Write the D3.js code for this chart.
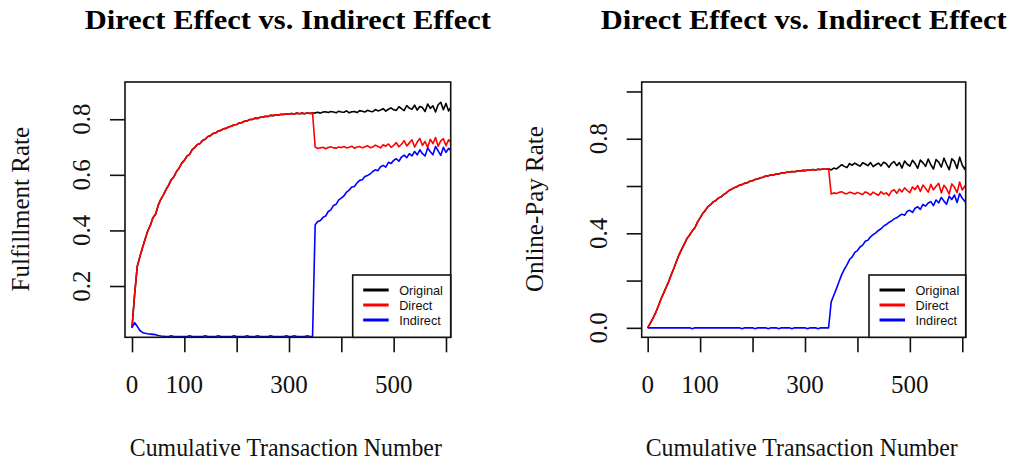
<!DOCTYPE html>
<html>
<head>
<meta charset="utf-8">
<script src="https://cdn.jsdelivr.net/npm/d3@7"></script>
<style>
  body { margin: 0; background: #fff; }
</style>
</head>
<body>
<div id="main-chart"></div>
<script>
const txnPre = [0,5,10,15,20,25,30,35,40,45,50,55,60,65,70,75,80,85,90,95,
  100,105,110,115,120,125,130,135,140,145,150,155,160,165,170,175,180,185,190,195,
  200,205,210,215,220,225,230,235,240,245,250,255,260,265,270,275,280,285,290,295,
  300,305,310,315,320,325,330,335,340,345];
const txnPost = [350,355,360,365,370,375,380,385,390,395,400,405,410,415,420,425,430,435,440,445,
  450,455,460,465,470,475,480,485,490,495,500,505,510,515,520,525,530,535,540,545,
  550,555,560,565,570,575,580,585,590,595,600,605,610];

// Fulfillment rate (left panel); Original and Direct coincide before the change
const fulfilBase = [0.05,0.17,0.27,0.305,0.338,0.368,0.398,0.418,0.446,0.458,
  0.49,0.512,0.528,0.547,0.563,0.582,0.593,0.612,0.624,0.642,
  0.652,0.667,0.674,0.691,0.698,0.709,0.713,0.724,0.728,0.738,
  0.741,0.749,0.751,0.758,0.76,0.766,0.767,0.773,0.775,0.78,
  0.781,0.787,0.788,0.793,0.794,0.799,0.799,0.804,0.803,0.807,
  0.807,0.811,0.81,0.814,0.813,0.816,0.815,0.818,0.817,0.82,
  0.818,0.821,0.819,0.822,0.82,0.822,0.82,0.823,0.821,0.822];
const fulfilOriginalPost = [0.823,0.825,0.822,0.826,0.827,0.824,0.828,0.826,0.823,0.829,
  0.826,0.825,0.83,0.823,0.827,0.828,0.824,0.831,0.829,0.826,
  0.832,0.829,0.827,0.835,0.83,0.833,0.838,0.829,0.836,0.841,
  0.834,0.832,0.845,0.838,0.831,0.849,0.84,0.836,0.851,0.833,
  0.846,0.842,0.828,0.855,0.839,0.848,0.826,0.852,0.861,0.834,
  0.857,0.83,0.845];
const fulfilDirectPost = [0.70,0.695,0.697,0.699,0.694,0.698,0.701,0.697,0.696,0.70,
  0.698,0.702,0.697,0.699,0.703,0.696,0.70,0.702,0.697,0.701,
  0.705,0.698,0.70,0.707,0.702,0.697,0.708,0.703,0.711,0.699,
  0.706,0.716,0.701,0.71,0.723,0.704,0.715,0.726,0.70,0.718,
  0.731,0.706,0.72,0.699,0.728,0.712,0.734,0.703,0.722,0.73,
  0.705,0.726,0.715];
const fulfilIndirectPre = [0.05,0.068,0.055,0.04,0.033,0.03,0.028,0.027,0.026,0.025,
  0.022,0.02,0.019,0.018,0.018,0.021,0.018,0.018,0.018,0.018,
  0.018,0.018,0.021,0.018,0.018,0.018,0.018,0.018,0.021,0.018,
  0.018,0.018,0.018,0.021,0.018,0.018,0.018,0.018,0.018,0.021,
  0.018,0.018,0.018,0.018,0.021,0.018,0.018,0.018,0.021,0.018,
  0.018,0.018,0.018,0.021,0.018,0.018,0.018,0.018,0.018,0.021,
  0.018,0.018,0.021,0.018,0.018,0.018,0.018,0.021,0.018,0.018];
const fulfilIndirectPost = [0.42,0.432,0.436,0.447,0.452,0.468,0.474,0.49,0.494,0.51,
  0.516,0.524,0.538,0.545,0.556,0.558,0.571,0.58,0.582,0.594,
  0.598,0.603,0.612,0.618,0.615,0.629,0.634,0.628,0.645,0.641,
  0.652,0.658,0.649,0.664,0.671,0.662,0.676,0.668,0.684,0.672,
  0.69,0.676,0.668,0.697,0.683,0.672,0.702,0.686,0.67,0.699,
  0.681,0.695,0.686];

// Online-pay rate (right panel)
const payBase = [0,0.02,0.04,0.063,0.09,0.12,0.145,0.17,0.195,0.225,
  0.252,0.282,0.31,0.333,0.355,0.378,0.393,0.41,0.423,0.447,
  0.465,0.484,0.497,0.513,0.521,0.533,0.539,0.549,0.554,0.564,
  0.571,0.581,0.586,0.593,0.597,0.604,0.606,0.612,0.614,0.62,
  0.622,0.628,0.63,0.635,0.637,0.642,0.643,0.647,0.647,0.651,
  0.651,0.655,0.655,0.658,0.658,0.661,0.66,0.663,0.663,0.666,
  0.665,0.668,0.667,0.67,0.668,0.671,0.67,0.672,0.671,0.673];
const payOriginalPost = [0.668,0.676,0.672,0.681,0.69,0.683,0.678,0.695,0.688,0.697,
  0.69,0.684,0.698,0.693,0.686,0.699,0.682,0.69,0.697,0.685,
  0.701,0.694,0.679,0.696,0.703,0.686,0.699,0.676,0.706,0.692,
  0.684,0.709,0.695,0.675,0.71,0.698,0.683,0.714,0.69,0.672,
  0.712,0.701,0.68,0.718,0.692,0.669,0.715,0.704,0.674,0.722,
  0.688,0.67,0.712];
const payDirectPost = [0.566,0.571,0.568,0.573,0.576,0.569,0.567,0.574,0.571,0.566,
  0.573,0.568,0.564,0.575,0.57,0.562,0.574,0.567,0.561,0.576,
  0.566,0.571,0.559,0.578,0.584,0.569,0.587,0.575,0.592,0.581,
  0.572,0.596,0.585,0.602,0.577,0.604,0.59,0.574,0.607,0.584,
  0.599,0.611,0.571,0.603,0.588,0.566,0.609,0.595,0.572,0.617,
  0.583,0.60,0.574];
const payIndirectPre = [0,0,0,0,0,0,0,0,0,0,
  0,0,0,0,0,0,0,-0.004,0,0,
  0,0,0,0,0,0,0,0,0,0,
  0,0,0,0,0,0,-0.004,0,0,0,
  0,-0.004,0,0,0,0,-0.004,0,0,0,
  -0.004,0,0,0,0,-0.004,0,0,0,0,
  0,-0.004,0,0,0,-0.004,0,0,0,0];
const payIndirectPost = [0.11,0.138,0.166,0.196,0.225,0.247,0.266,0.289,0.30,0.319,
  0.327,0.342,0.35,0.366,0.371,0.385,0.394,0.402,0.412,0.419,
  0.43,0.437,0.446,0.452,0.461,0.466,0.474,0.481,0.476,0.493,
  0.497,0.488,0.506,0.512,0.501,0.522,0.515,0.528,0.534,0.517,
  0.541,0.529,0.552,0.536,0.523,0.557,0.543,0.562,0.53,0.568,
  0.548,0.534,0.56];

const seriesNames = ["Original", "Direct", "Indirect"];
const seriesColors = ["#000000", "#ff0000", "#0000ff"];
const xTicks = [0, 100, 200, 300, 400, 500, 600];
const xTickLabels = [0, 100, 300, 500];
const chartTitle = "Direct Effect vs. Indirect Effect";
const xTitle = "Cumulative Transaction Number";

const txnAll = txnPre.concat(txnPost);
const serif = "'Liberation Serif', 'Times New Roman', serif";
const sans = "'Liberation Sans', Arial, sans-serif";

const svg = d3.select("#main-chart")
    .append("svg")
    .attr("width", 1012)
    .attr("height", 461);

function drawPanel(p) {
    const x = d3.scaleLinear().domain(p.xDomain).range([p.left, p.right]);
    const y = d3.scaleLinear().domain(p.yDomain).range([p.bottom, p.top]);
    const g = svg.append("g");
    const clipId = "clip-" + p.id;

    g.append("clipPath").attr("id", clipId)
        .append("rect")
        .attr("x", p.left).attr("y", p.top)
        .attr("width", p.right - p.left).attr("height", p.bottom - p.top);

    const line = d3.line().x(d => x(d[0])).y(d => y(d[1]));

    p.series.forEach((vals, i) => {
        g.append("path")
            .datum(d3.zip(txnAll, vals))
            .attr("clip-path", `url(#${clipId})`)
            .attr("fill", "none")
            .attr("stroke", seriesColors[i])
            .attr("stroke-width", 1.6)
            .attr("stroke-linejoin", "round")
            .attr("d", line);
    });

    // x axis ticks
    const xAxis = g.append("g")
        .attr("transform", `translate(0,${p.bottom})`)
        .call(d3.axisBottom(x).tickValues(xTicks).tickSize(15).tickFormat(""));
    xAxis.select(".domain").remove();
    xAxis.selectAll("line").attr("stroke", "#111").attr("stroke-width", 1.6);

    g.selectAll(".xlab")
        .data(xTickLabels)
        .enter().append("text")
        .attr("x", d => x(d))
        .attr("y", p.bottom + 56)
        .attr("text-anchor", "middle")
        .attr("font-family", serif)
        .attr("font-size", 25)
        .attr("fill", "#111")
        .text(d => d);

    // y axis ticks
    const yAxis = g.append("g")
        .attr("transform", `translate(${p.left},0)`)
        .call(d3.axisLeft(y).tickValues(p.yTicks).tickSize(15).tickFormat(""));
    yAxis.select(".domain").remove();
    yAxis.selectAll("line").attr("stroke", "#111").attr("stroke-width", 1.6);

    g.selectAll(".ylab")
        .data(p.yTickLabels)
        .enter().append("text")
        .attr("transform", d => `translate(${p.left - 35},${y(d)}) rotate(-90)`)
        .attr("text-anchor", "middle")
        .attr("font-family", serif)
        .attr("font-size", 25)
        .attr("fill", "#111")
        .text(d => d3.format(".1f")(d));

    // plot box
    g.append("rect")
        .attr("x", p.left).attr("y", p.top)
        .attr("width", p.right - p.left).attr("height", p.bottom - p.top)
        .attr("fill", "none")
        .attr("stroke", "#111")
        .attr("stroke-width", 1.6);

    // titles
    const cx = (p.left + p.right) / 2;
    g.append("text")
        .attr("x", cx).attr("y", 29.3)
        .attr("text-anchor", "middle")
        .attr("font-family", serif)
        .attr("font-weight", "bold")
        .attr("font-size", 27)
        .attr("textLength", 406)
        .attr("lengthAdjust", "spacingAndGlyphs")
        .text(chartTitle);

    g.append("text")
        .attr("x", cx - 2).attr("y", 456)
        .attr("text-anchor", "middle")
        .attr("font-family", serif)
        .attr("font-size", 25)
        .attr("fill", "#111")
        .attr("textLength", 312)
        .attr("lengthAdjust", "spacingAndGlyphs")
        .text(xTitle);

    g.append("text")
        .attr("transform", `translate(${p.left - p.yTitleOffset},${(p.top + p.bottom) / 2 - 0.5}) rotate(-90)`)
        .attr("text-anchor", "middle")
        .attr("font-family", serif)
        .attr("font-size", 25)
        .attr("fill", "#111")
        .text(p.yTitle);

    // legend
    const lg = g.append("g");
    lg.append("rect")
        .attr("x", p.legendX).attr("y", p.legendY)
        .attr("width", p.right - p.legendX).attr("height", p.bottom - p.legendY)
        .attr("fill", "#fff")
        .attr("stroke", "#111")
        .attr("stroke-width", 1.6);

    seriesNames.forEach((name, i) => {
        const ly = p.legendY + 15 + i * 15;
        lg.append("line")
            .attr("x1", p.legendX + 10.5).attr("x2", p.legendX + 36)
            .attr("y1", ly).attr("y2", ly)
            .attr("stroke", seriesColors[i])
            .attr("stroke-width", 3);
        lg.append("text")
            .attr("x", p.legendX + 46.5).attr("y", ly + 4.6)
            .attr("font-family", sans)
            .attr("font-size", 12.7)
            .attr("fill", "#111")
            .text(name);
    });
}

drawPanel({
    id: "fulfil",
    left: 125, right: 450.7, top: 82, bottom: 337.3,
    xDomain: [-13.4, 609],
    yDomain: [0.0155, 0.934],
    yTicks: [0.2, 0.4, 0.6, 0.8],
    yTickLabels: [0.2, 0.4, 0.6, 0.8],
    yTitle: "Fulfillment Rate",
    yTitleOffset: 95.7,
    legendX: 352.7, legendY: 275,
    series: [
        fulfilBase.concat(fulfilOriginalPost),
        fulfilBase.concat(fulfilDirectPost),
        fulfilIndirectPre.concat(fulfilIndirectPost)
    ]
});

drawPanel({
    id: "pay",
    left: 641.7, right: 965.7, top: 82, bottom: 337.3,
    xDomain: [-11.4, 606.5],
    yDomain: [-0.04, 1.04],
    yTicks: [0, 0.2, 0.4, 0.6, 0.8, 1.0],
    yTickLabels: [0, 0.4, 0.8],
    yTitle: "Online-Pay Rate",
    yTitleOffset: 98.5,
    legendX: 869, legendY: 275,
    series: [
        payBase.concat(payOriginalPost),
        payBase.concat(payDirectPost),
        payIndirectPre.concat(payIndirectPost)
    ]
});
</script>
</body>
</html>
